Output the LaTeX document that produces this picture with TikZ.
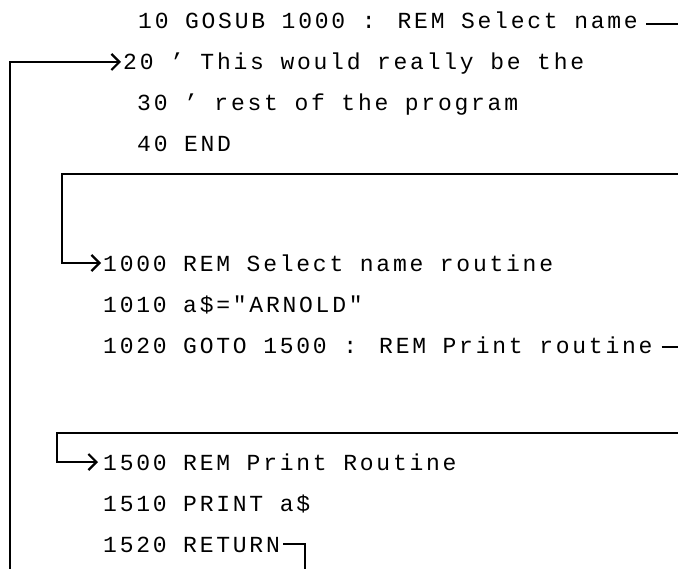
\documentclass[tikz,border=0pt]{standalone}
\usepackage{fontspec}
\usetikzlibrary{arrows.meta,calc}
\newfontfamily\plotfont[LetterSpace=12]{Liberation Mono}
\begin{document}
\begin{tikzpicture}[x=1bp,y=-1bp,
  txt/.style={anchor=base west, inner sep=0pt, font=\plotfont\fontsize{23bp}{23bp}\selectfont},
  conn/.style={draw, line width=1.7bp},
  arr/.style={conn, -{Straight Barb[length=8bp,width=16bp,line width=2.2bp]}}]
\useasboundingbox[fill=white] (0,0) rectangle (678,569);
% program text
\node[txt] (l10)   at (138,29)  {10 GOSUB 1000 : REM Select name};
\node[txt] (l20)   at (123,70)  {20 ’ This would really be the};
\node[txt] (l30)   at (137,111) {30 ’ rest of the program};
\node[txt] (l40)   at (137,152) {40 END};
\node[txt] (l1000) at (103,271) {1000 REM Select name routine};
\node[txt] (l1010) at (103,312) {1010 a\$="ARNOLD"};
\node[txt] (l1020) at (103,353) {1020 GOTO 1500 : REM Print routine};
\node[txt] (l1500) at (103,470) {1500 REM Print Routine};
\node[txt] (l1510) at (103,511) {1510 PRINT a\$};
\node[txt] (l1520) at (103,552) {1520 RETURN};
% free ends at the picture edges
\coordinate (rim)  at (678,0);
\coordinate (in2)  at (678,174);
\coordinate (in3)  at (678,433);
\coordinate (out1) at (305,569);
\coordinate (in1)  at (10,569);
% GOSUB 1000
\draw[conn] ($(l10.base east)+(8,-5)$) coordinate (a1) -- (a1 -| rim);
\draw[arr] (in2) -| ($(l1000.base west)+(-41,-8)$) -- ($(l1000.base west)+(-2,-8)$);
% GOTO 1500
\draw[conn] ($(l1020.base east)+(9,-6)$) coordinate (a2) -- (a2 -| rim);
\draw[arr] (in3) -| ($(l1500.base west)+(-46,-8)$) -- ($(l1500.base west)+(-5,-8)$);
% RETURN
\draw[conn] ($(l1520.base east)+(3,-8)$) -| (out1);
\draw[arr] (in1) |- ($(l20.base west)+(-2,-8)$);
\end{tikzpicture}
\end{document}
